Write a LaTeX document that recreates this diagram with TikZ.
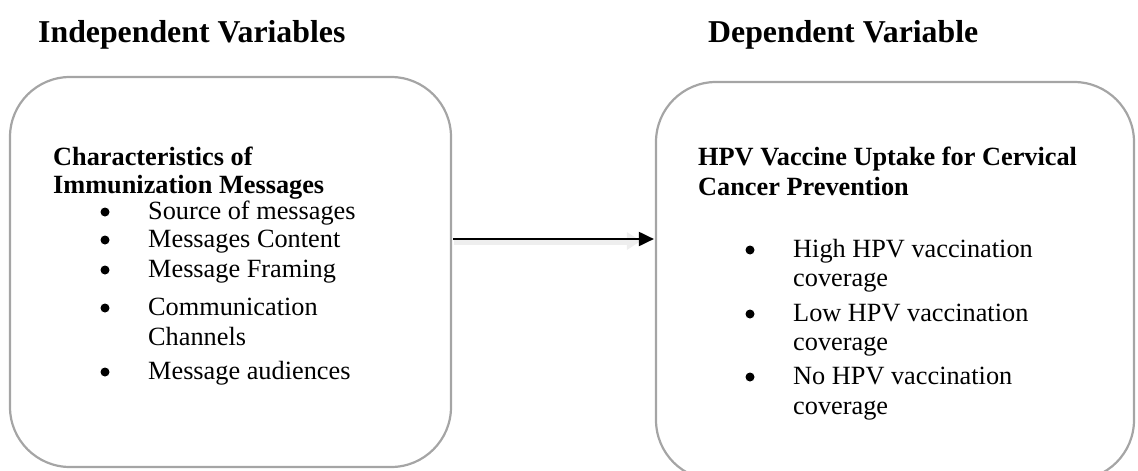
\documentclass[tikz,border=0pt]{standalone}
\usepackage{fontspec}
\setmainfont{Liberation Serif}
\usetikzlibrary{arrows.meta}
\definecolor{boxgray}{RGB}{165,165,165}
\definecolor{shadowgray}{RGB}{238,238,238}
\tikzset{
  head/.style={anchor=base west, inner sep=0pt, font=\fontsize{31.8}{36}\selectfont\bfseries},
  ttl/.style={anchor=base west, inner sep=0pt, font=\fontsize{26.3}{30}\selectfont\bfseries},
  body/.style={anchor=base west, inner sep=0pt, font=\fontsize{26.3}{30}\selectfont},
  bul/.style={circle, fill=black, inner sep=0pt, minimum size=9pt},
  panel/.style={draw=boxgray, line width=2.2pt, rounded corners=60pt, inner sep=0pt},
}
\begin{document}
\begin{tikzpicture}[x=1pt,y=-1pt]
\useasboundingbox (0,0) rectangle (1138,471);
\begin{scope}
\clip (0,0) rectangle (1138,471);
% panels
\node[panel, minimum width=441pt, minimum height=390pt] (left) at (230.5,272) {};
\node[panel, minimum width=478pt, minimum height=398pt] (right) at (895,281) {};
\end{scope}
% headings
\node[head] (h1) at (38,42) {Independent Variables};
\node[head] (h2) at (708,42) {Dependent Variable};
% left box text
\node[ttl] (lt1) at (53,165) {Characteristics of};
\node[ttl] (lt2) at (53,193) {Immunization Messages};
\node[body] (l1) at (148,219) {Source of messages};
\node[body] (l2) at (148,247) {Messages Content};
\node[body] (l3) at (148,277) {Message Framing};
\node[body] (l4) at (148,315) {Communication};
\node[body] (l4b) at (148,345) {Channels};
\node[body] (l5) at (148,379) {Message audiences};
\node[bul] (lb1) at (105,212) {};
\node[bul] (lb2) at (105,240) {};
\node[bul] (lb3) at (105,270) {};
\node[bul] (lb4) at (105,308) {};
\node[bul] (lb5) at (105,372) {};
% right box text
\node[ttl] (rt1) at (698,165) {HPV Vaccine Uptake for Cervical};
\node[ttl] (rt2) at (698,195) {Cancer Prevention};
\node[body] (r1) at (793,257) {High HPV vaccination};
\node[body] (r1b) at (793,286) {coverage};
\node[body] (r2) at (793,321) {Low HPV vaccination};
\node[body] (r2b) at (793,350) {coverage};
\node[body] (r3) at (793,384) {No HPV vaccination};
\node[body] (r3b) at (793,414) {coverage};
\node[bul] (rb1) at (750,250) {};
\node[bul] (rb2) at (750,314) {};
\node[bul] (rb3) at (750,377) {};
% arrow
\coordinate (ay) at (0,239);
\coordinate (sy) at (0,241);
\draw[shadowgray, line width=7pt, -{Triangle[length=14pt,width=17pt]}] ([xshift=2pt]left.east |- sy) -- ([xshift=-14pt]right.west |- sy);
\draw[black, line width=2pt, -{Triangle[length=15pt,width=14pt]}] ([xshift=1pt]left.east |- ay) -- ([xshift=-1pt]right.west |- ay);
\end{tikzpicture}
\end{document}
